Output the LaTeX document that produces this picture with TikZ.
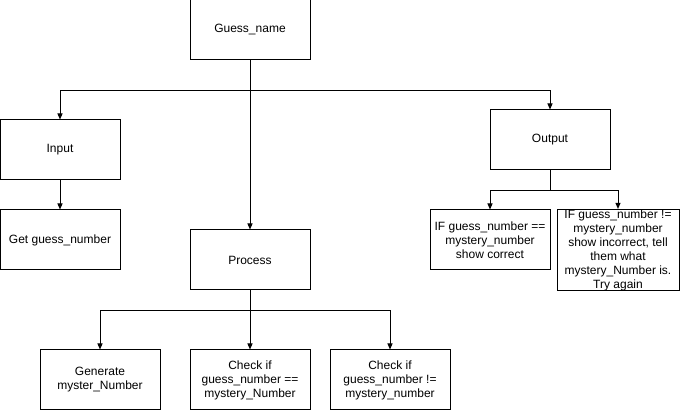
\documentclass[tikz,border=0pt]{standalone}
\usepackage{fontspec}
\setmainfont{Liberation Sans}
\usetikzlibrary{arrows.meta,positioning}

\tikzset{
  box/.style={rectangle, draw, line width=1pt, minimum width=120pt, minimum height=60pt, inner sep=0pt, align=center},
  link/.style={draw, line width=1pt, -{Triangle[length=6pt,width=5pt]}}
}

\begin{document}
\begin{tikzpicture}[x=1pt, y=-1pt, every node/.style={font=\fontsize{12}{14}\selectfont}]

    \useasboundingbox (0,0) rectangle (681,411);

    % Top level box
    \node (guess) [box] at (250,30) {Guess\_name};

    % Input side
    \node (input) [box] at (60,150) {Input};
    \node (getnum) [box] at (60,240) {Get guess\_number};

    % Output side
    \node (output) [box] at (550,140) {Output};
    \node (showok) [box] at (490,240) {IF guess\_number ==\\mystery\_number\\show correct};
    \node (showbad) [box, minimum width=122pt, minimum height=80pt] at (618,250) {IF guess\_number !=\\mystery\_number\\show incorrect, tell\\them what\\mystery\_Number is.\\Try again};

    % Process side
    \node (process) [box] at (250,260) {Process};
    \node (gen) [box] at (100,380) {Generate\\myster\_Number};
    \node (chkeq) [box] at (250,380) {Check if\\guess\_number ==\\mystery\_Number};
    \node (chkne) [box] at (390,380) {Check if\\guess\_number !=\\mystery\_number};

    % Connectors from the top box
    \draw[link] (guess.south) -- ++(0,30) -| (input.north);
    \draw[link] (guess.south) -- ++(0,30) -| (output.north);
    \draw[link] (guess) -- (process);
    \draw[link] (input) -- (getnum);

    % Connectors from output
    \draw[link] (output.south) -- ++(0,20) -| (showok.north);
    \draw[link] (output.south) -- ++(0,20) -| (showbad.north);

    % Connectors from process
    \draw[link] (process.south) -- ++(0,20) -| (gen.north);
    \draw[link] (process) -- (chkeq);
    \draw[link] (process.south) -- ++(0,20) -| (chkne.north);

\end{tikzpicture}
\end{document}
